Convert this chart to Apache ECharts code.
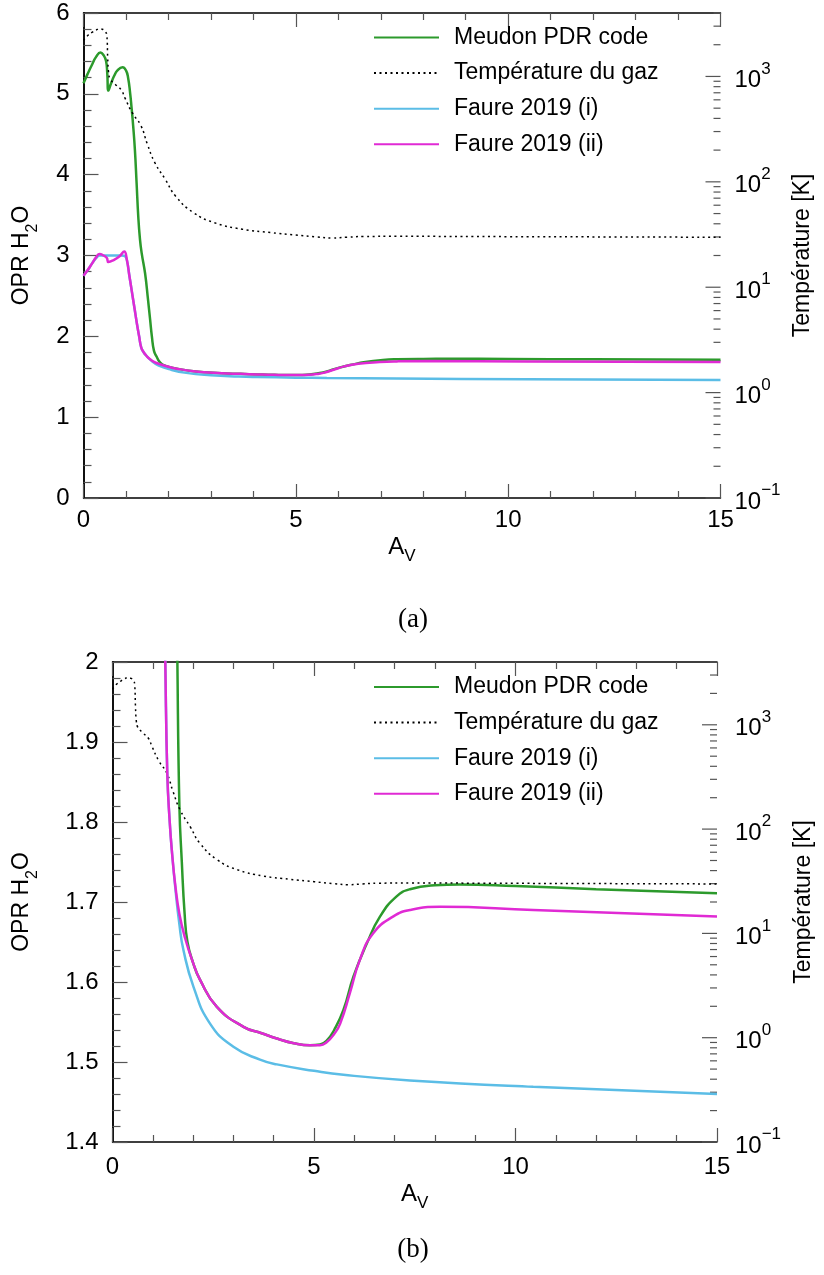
<!DOCTYPE html>
<html>
<head>
<meta charset="utf-8">
<script src="https://cdn.jsdelivr.net/npm/echarts@6/dist/echarts.min.js"></script>
<style>
html,body{margin:0;padding:0;background:#fff;}
#chart{width:824px;height:1275px;}
</style>
</head>
<body>
<div id="chart"></div>
<script>
// ---- data: [A_V, value] ----
const seriesNames = ['Meudon PDR code', 'Température du gaz', 'Faure 2019 (i)', 'Faure 2019 (ii)'];

const meudonOPR = [[0,5.13],[0.1,5.25],[0.2,5.36],[0.3,5.46],[0.4,5.51],[0.47,5.48],[0.53,5.41],[0.56,5.25],[0.585,5.04],[0.65,5.13],[0.72,5.22],[0.8,5.29],[0.92,5.33],[1.0,5.29],[1.05,5.2],[1.1,5.0],[1.13,4.84],[1.17,4.6],[1.21,4.31],[1.25,3.9],[1.29,3.48],[1.33,3.2],[1.37,3.03],[1.45,2.78],[1.52,2.45],[1.57,2.2],[1.61,2.0],[1.66,1.82],[1.72,1.75],[1.79,1.685],[1.86,1.65],[2.0,1.624],[2.17,1.603],[2.59,1.569],[3.25,1.544],[3.7,1.536],[4.1,1.529],[4.5,1.5235],[4.9,1.521],[5.15,1.522],[5.32,1.527],[5.5,1.54],[5.73,1.565],[5.98,1.607],[6.31,1.648],[6.64,1.682],[7.05,1.707],[7.38,1.716],[8.0,1.721],[8.6,1.722],[10,1.72],[12,1.716],[15,1.711]];

const gasTemperature = [[0,2200],[0.1,2450],[0.2,2620],[0.3,2760],[0.38,2830],[0.46,2790],[0.52,2650],[0.55,2450],[0.57,1500],[0.59,1100],[0.62,960],[0.75,840],[0.89,743],[0.98,620],[1.15,450],[1.35,343],[1.5,230],[1.68,152],[1.93,105],[2.17,73],[2.59,51],[3.08,41],[3.74,35.5],[4.41,33],[5.0,31.3],[5.5,30],[5.85,29.3],[6.2,29.8],[6.6,30.3],[7.4,30.4],[10,30.2],[12.5,30],[15,29.8]];

const faure1OPR = [[0,2.75],[0.1,2.82],[0.2,2.9],[0.3,2.97],[0.38,3.0],[0.5,3.0],[0.7,3.0],[0.9,3.0],[0.98,2.99],[1.03,2.92],[1.08,2.75],[1.14,2.55],[1.2,2.35],[1.26,2.15],[1.31,2.0],[1.36,1.86],[1.42,1.80],[1.48,1.76],[1.56,1.717],[1.66,1.672],[1.76,1.64],[2.01,1.594],[2.42,1.548],[3.0,1.519],[3.66,1.503],[4.08,1.497],[5.0,1.489],[5.73,1.484],[7.38,1.477],[10.44,1.469],[15,1.46]];

const faure2OPR = [[0,2.75],[0.1,2.82],[0.2,2.9],[0.3,2.98],[0.38,3.02],[0.47,3.0],[0.55,2.97],[0.585,2.92],[0.7,2.94],[0.85,2.99],[0.96,3.05],[1.02,2.95],[1.08,2.75],[1.14,2.55],[1.2,2.35],[1.26,2.15],[1.31,2.0],[1.36,1.86],[1.42,1.80],[1.48,1.76],[1.56,1.72],[1.66,1.685],[1.8,1.655],[2.0,1.624],[2.17,1.603],[2.59,1.569],[3.25,1.544],[3.7,1.536],[4.1,1.529],[4.5,1.5235],[4.9,1.521],[5.15,1.521],[5.32,1.525],[5.5,1.535],[5.65,1.548],[5.89,1.586],[6.14,1.628],[6.47,1.661],[6.97,1.682],[7.38,1.69],[8.13,1.694],[10.44,1.69],[15,1.682]];

// axis ranges / ticks
const avRange = [0, 15];
const oprRangeA = [0, 6];
const oprRangeB = [1.4, 2.0];
const tempRange = [0.1, 4000];
const tempDecades = [-1, 0, 1, 2, 3];
const tempMantissas = [1, 2, 3, 4, 5, 6, 7, 8, 9];
const captions = ['(a)', '(b)'];

// ---- build ----
const FONT = 'Liberation Sans';
const colors = { meudon: '#2c9a2c', temp: '#000000', f1: '#5bbde6', f2: '#e02ad4' };

const tempTicks = [];
tempDecades.forEach(d => tempMantissas.forEach(m => {
  const v = m * Math.pow(10, d);
  if (v <= tempRange[1] * 1.0001) tempTicks.push([v, m === 1 ? 1 : 0]);
}));

const grids = [
  { left: 83.5, top: 13, width: 637, height: 485 },
  { left: 112.5, top: 662, width: 604.5, height: 480 }
];

function supLabel(v) {
  const e = Math.round(Math.log10(v));
  if (Math.abs(Math.log10(v) - e) > 1e-6) return '';
  const es = e < 0 ? '\u2212' + (-e) : String(e);
  return '{b|10}{e|' + es + '}';
}

const xAxes = [], yAxes = [], series = [];
const tickColor = '#555';

grids.forEach((g, gi) => {
  const nameGapX = gi === 0 ? 37 : 40;
  xAxes.push({
    gridIndex: gi, type: 'value', position: 'bottom', min: avRange[0], max: avRange[1], interval: 5,
    name: '{a|A}{s|V}', nameLocation: 'middle', nameGap: nameGapX,
    nameTextStyle: { rich: {
      a: { fontSize: 24, fontFamily: FONT, color: '#000', lineHeight: 30, verticalAlign: 'top' },
      s: { fontSize: 17, fontFamily: FONT, color: '#000', lineHeight: 17, verticalAlign: 'bottom' } } },
    axisLine: { show: true, lineStyle: { color: '#000', width: 1.5 } },
    axisTick: { show: true, inside: true, length: 14, lineStyle: { color: tickColor, width: 1.2 } },
    minorTick: { show: true, splitNumber: 5, length: 7, lineStyle: { color: tickColor, width: 1.2 } },
    axisLabel: { fontSize: 24, fontFamily: FONT, color: '#000', margin: gi === 0 ? 10 : 13 },
    splitLine: { show: false }
  });
  xAxes.push({
    gridIndex: gi, type: 'value', position: 'top', min: avRange[0], max: avRange[1], interval: 5,
    axisLine: { show: true, lineStyle: { color: '#000', width: 1.5 } },
    axisTick: { show: true, inside: true, length: 14, lineStyle: { color: tickColor, width: 1.2 } },
    minorTick: { show: true, splitNumber: 5, length: 7, lineStyle: { color: tickColor, width: 1.2 } },
    axisLabel: { show: false }, splitLine: { show: false }
  });
  const oprR = gi === 0 ? oprRangeA : oprRangeB;
  yAxes.push({
    gridIndex: gi, type: 'value', position: 'left', min: oprR[0], max: oprR[1], interval: gi === 0 ? 1 : 0.1,
    name: '{a|OPR H}{s|2}{a|O}', nameLocation: 'middle', nameRotate: 90, nameGap: gi === 0 ? 43 : 72,
    nameTextStyle: { rich: {
      a: { fontSize: 23, fontFamily: FONT, color: '#000', lineHeight: 30, verticalAlign: 'top' },
      s: { fontSize: 16, fontFamily: FONT, color: '#000', lineHeight: 16, verticalAlign: 'bottom' } } },
    axisLine: { show: true, lineStyle: { color: '#000', width: 1.5 } },
    axisTick: { show: true, inside: true, length: 15, lineStyle: { color: tickColor, width: 1.2 } },
    minorTick: { show: true, splitNumber: 5, length: 8, lineStyle: { color: tickColor, width: 1.2 } },
    axisLabel: { fontSize: 24, fontFamily: FONT, color: '#000', margin: 14 },
    splitLine: { show: false }
  });
  yAxes.push({
    gridIndex: gi, type: 'log', logBase: 10, position: 'right', min: tempRange[0], max: tempRange[1],
    name: 'Température [K]', nameLocation: 'middle', nameRotate: 90, nameGap: gi === 0 ? 68 : 71,
    nameTextStyle: { fontSize: 23, fontFamily: FONT, color: '#000' },
    axisLine: { show: true, lineStyle: { color: '#000', width: 1.5 } },
    axisTick: { show: false }, minorTick: { show: false },
    axisLabel: { margin: gi === 0 ? 14 : 18, formatter: supLabel, showMaxLabel: false,
      rich: {
        b: { fontSize: 24, fontFamily: FONT, color: '#000', lineHeight: 32, verticalAlign: 'bottom' },
        e: { fontSize: 17, fontFamily: FONT, color: '#000', lineHeight: 17, verticalAlign: 'top' } } },
    splitLine: { show: false }
  });

  const xi = gi * 2, yL = gi * 2, yR = gi * 2 + 1;
  const common = { type: 'line', showSymbol: false, symbol: 'none', smooth: 0.5, xAxisIndex: xi, clip: true, silent: true };
  series.push(Object.assign({}, common, { name: seriesNames[0], yAxisIndex: yL, data: meudonOPR,
    lineStyle: { color: colors.meudon, width: 2.5 }, itemStyle: { color: colors.meudon } }));
  series.push(Object.assign({}, common, { name: seriesNames[1], yAxisIndex: yR, data: gasTemperature,
    lineStyle: { color: colors.temp, width: 1.5, type: [2, 3.5] }, itemStyle: { color: colors.temp } }));
  series.push(Object.assign({}, common, { name: seriesNames[2], yAxisIndex: yL, data: faure1OPR,
    lineStyle: { color: colors.f1, width: 2.5 }, itemStyle: { color: colors.f1 } }));
  series.push(Object.assign({}, common, { name: seriesNames[3], yAxisIndex: yL, data: faure2OPR,
    lineStyle: { color: colors.f2, width: 2.5 }, itemStyle: { color: colors.f2 } }));
  series.push({
    type: 'custom', xAxisIndex: xi, yAxisIndex: yR, silent: true, clip: false,
    data: tempTicks, encode: { y: 0 },
    renderItem: function (params, api) {
      const v = api.value(0), major = api.value(1);
      const p = api.coord([avRange[1], v]);
      const len = major ? 15 : 7;
      return { type: 'line', shape: { x1: p[0] - len, y1: p[1], x2: p[0], y2: p[1] },
        style: { stroke: tickColor, lineWidth: 1.2 } };
    }
  });
});

const legendBase = {
  data: seriesNames, orient: 'vertical', left: 373, itemWidth: 65, itemHeight: 14, itemGap: 9.6,
  padding: 0, selectedMode: false,
  itemStyle: { opacity: 0, borderWidth: 0 },
  textStyle: { fontSize: 23, fontFamily: FONT, color: '#000', lineHeight: 26, padding: [0, 0, 0, 10] }
};

const option = {
  animation: false,
  backgroundColor: '#fff',
  grid: grids,
  xAxis: xAxes,
  yAxis: yAxes,
  series: series,
  legend: [Object.assign({}, legendBase, { top: 24.5 }), Object.assign({}, legendBase, { top: 674 })],
  graphic: [
    { type: 'text', x: 413, y: 620, style: { text: captions[0], fontSize: 27, fontFamily: 'Liberation Serif', fill: '#000', align: 'center', verticalAlign: 'middle' } },
    { type: 'text', x: 413, y: 1250, style: { text: captions[1], fontSize: 27, fontFamily: 'Liberation Serif', fill: '#000', align: 'center', verticalAlign: 'middle' } }
  ]
};

const chart = echarts.init(document.getElementById('chart'), null, { renderer: 'canvas' });
chart.setOption(option);
</script>
</body>
</html>
